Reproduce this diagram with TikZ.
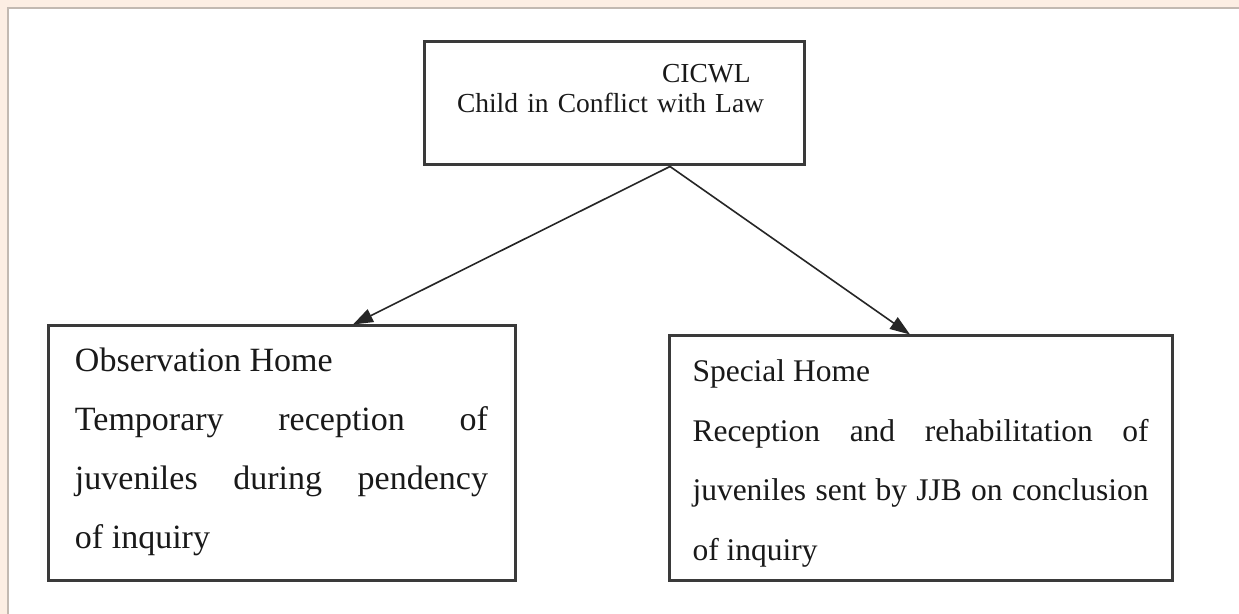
\documentclass[tikz,border=0pt]{standalone}
\usepackage{fontspec}
\setmainfont{Liberation Serif}
\usetikzlibrary{shapes.geometric, arrows, arrows.meta}
\definecolor{pagebeige}{HTML}{FCEEE3}
\definecolor{edgegray}{HTML}{C2B9B1}
\definecolor{boxgray}{HTML}{3A3A3A}
\tikzstyle{lawbox} = [rectangle, draw=boxgray, line width=1.5pt, fill=white, text=black!90, inner xsep=16.5pt, inner ysep=0pt, text width=157pt, align=left, text height=20.5pt, text depth=41pt, font=\fontsize{13.75}{15}\selectfont]
\tikzstyle{homebox} = [rectangle, draw=boxgray, line width=1.5pt, fill=white, text=black!90, inner ysep=0pt, align=justify]
\tikzstyle{arrow} = [line width=0.8pt, draw=black!85, -{Triangle[length=10pt,width=7pt]}]
\begin{document}
\begin{tikzpicture}[node distance=175pt]
% ---------------------------------------------
% Page background
% ---------------------------------------------
                \useasboundingbox (0,0) rectangle (619.5pt,-307pt);
                \fill [pagebeige] (0,0) rectangle (619.5pt,-307pt);
                \fill [white] (4pt,-4pt) rectangle (619.5pt,-307pt);
                \draw [edgegray, line width=0.9pt] (4pt,-307pt) -- (4pt,-4pt) -- (619.5pt,-4pt);

% ---------------------------------------------
% Top box
% ---------------------------------------------
                \node (cicwl) [lawbox] at (307pt,-51.75pt) {\hspace*{102.5pt}CICWL\\Child in Conflict with Law};

% ---------------------------------------------
% Left and right homes
% ---------------------------------------------
                \node (observation) [homebox, below of = cicwl, xshift=-166.25pt, text width=206.5pt, inner xsep=13.5pt, text height=23pt, text depth=104.5pt, font=\fontsize{17}{29.5}\selectfont] {Observation Home\\Temporary reception of\linebreak juveniles during pendency\linebreak of inquiry};

                \node (special) [homebox, below of = cicwl, xshift=153.25pt, yshift=-2.5pt, text width=228pt, inner xsep=11.75pt, text height=23pt, text depth=99.5pt, font=\fontsize{15.75}{29.75}\selectfont] {Special Home\\Reception and rehabilitation of\linebreak juveniles sent by JJB on conclusion\linebreak of inquiry};

% ---------------------------------------------
% All arrows
% ---------------------------------------------
                \coordinate (split) at ([xshift=28pt]cicwl.south);
                \draw [arrow] (split) -- ([xshift=35.75pt]observation.north);
                \draw [arrow] (split) -- ([xshift=-5.25pt]special.north);

\end{tikzpicture}
\end{document}
